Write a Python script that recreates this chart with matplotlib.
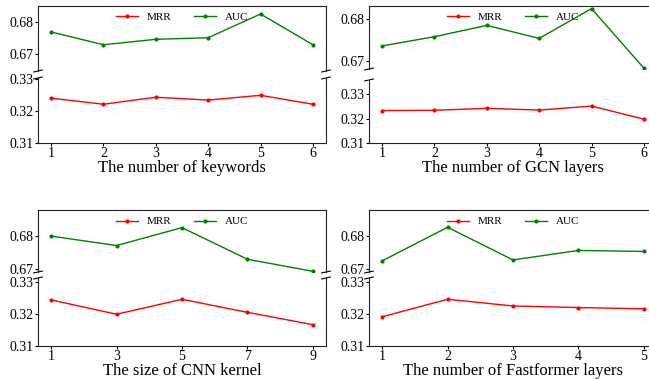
import matplotlib
matplotlib.use('Agg')
import matplotlib.pyplot as plt

plt.rcParams['font.family'] = ['Liberation Serif', 'DejaVu Serif']

# values
kw_x = [1, 2, 3, 4, 5, 6]
kw_mrr = [0.3240, 0.3221, 0.3243, 0.3234, 0.3249, 0.3221]
kw_auc = [0.6769, 0.6729, 0.6746, 0.6751, 0.6825, 0.6729]

gcn_x = [1, 2, 3, 4, 5, 6]
gcn_mrr = [0.3233, 0.3234, 0.3242, 0.3235, 0.3251, 0.3198]
gcn_auc = [0.6736, 0.6758, 0.6785, 0.6754, 0.6825, 0.6683]

cnn_x = [1, 3, 5, 7, 9]
cnn_mrr = [0.3245, 0.3200, 0.3247, 0.3206, 0.3167]
cnn_auc = [0.6800, 0.6771, 0.6826, 0.6729, 0.6692]

ff_x = [1, 2, 3, 4, 5]
ff_mrr = [0.3192, 0.3247, 0.3226, 0.3221, 0.3217]
ff_auc = [0.6724, 0.6827, 0.6727, 0.6756, 0.6753]

W, H = 649, 379


def rect(x0, y0, y1, w=288):
    # pixel box (from top) -> figure fraction
    return [x0 / W, 1 - y1 / H, w / W, (y1 - y0) / H]


def draw_panel(fig, x0, top_box, bot_box, x, mrr, auc, xlabel, top_lim, bot_lim):
    ax = fig.add_axes(rect(x0, *top_box))
    ax2 = fig.add_axes(rect(x0, *bot_box))

    l2, = ax2.plot(x, mrr, color='red', marker='.', markersize=4, lw=1, label='MRR')
    l1, = ax.plot(x, auc, color='green', marker='.', markersize=4, lw=1, label='AUC')

    ax.set_ylim(*top_lim)
    ax2.set_ylim(*bot_lim)
    ax.set_yticks([0.67, 0.68])
    ax2.set_yticks([0.31, 0.32, 0.33])
    ax.set_yticklabels(['0.67', '0.68'])
    ax2.set_yticklabels(['0.31', '0.32', '0.33'])
    ax2.set_xticks(x)
    ax.set_xlim(ax2.get_xlim())

    ax.spines['bottom'].set_visible(False)
    ax2.spines['top'].set_visible(False)
    ax.tick_params(axis='x', bottom=False, labelbottom=False)
    for a in (ax, ax2):
        a.tick_params(labelsize=10, length=2.5, width=0.8, pad=0.5)
        for s in a.spines.values():
            s.set_color('#222222')

    d = .015
    kw = dict(transform=ax.transAxes, color='k', clip_on=False, lw=0.8)
    ax.plot((-d, +d), (-d, +d), **kw)
    ax.plot((1 - d, 1 + d), (-d, +d), **kw)
    kw.update(transform=ax2.transAxes)
    ax2.plot((-d, +d), (1 - d, 1 + d), **kw)
    ax2.plot((1 - d, 1 + d), (1 - d, 1 + d), **kw)

    ax.legend(handles=[l2, l1], loc='upper center', ncol=2, frameon=False,
              fontsize=8, borderaxespad=0.2)
    ax2.set_xlabel(xlabel, fontsize=12, labelpad=0)
    return ax, ax2


fig = plt.figure(figsize=(W / 100, H / 100), dpi=100)

draw_panel(fig, 38, (5.7, 71), (78, 143), kw_x, kw_mrr, kw_auc,
           'The number of keywords', (0.6647, 0.6851), (0.31, 0.3303))
draw_panel(fig, 369, (5.7, 69), (80, 143.3), gcn_x, gcn_mrr, gcn_auc,
           'The number of GCN layers', (0.6681, 0.6832), (0.31, 0.3357))
draw_panel(fig, 38, (210, 272), (278, 346), cnn_x, cnn_mrr, cnn_auc,
           'The size of CNN kernel', (0.669, 0.688), (0.31, 0.3314))
draw_panel(fig, 369, (210, 272), (278, 346), ff_x, ff_mrr, ff_auc,
           'The number of Fastformer layers', (0.669, 0.688), (0.31, 0.3314))

fig.savefig('out.png', dpi=100)
